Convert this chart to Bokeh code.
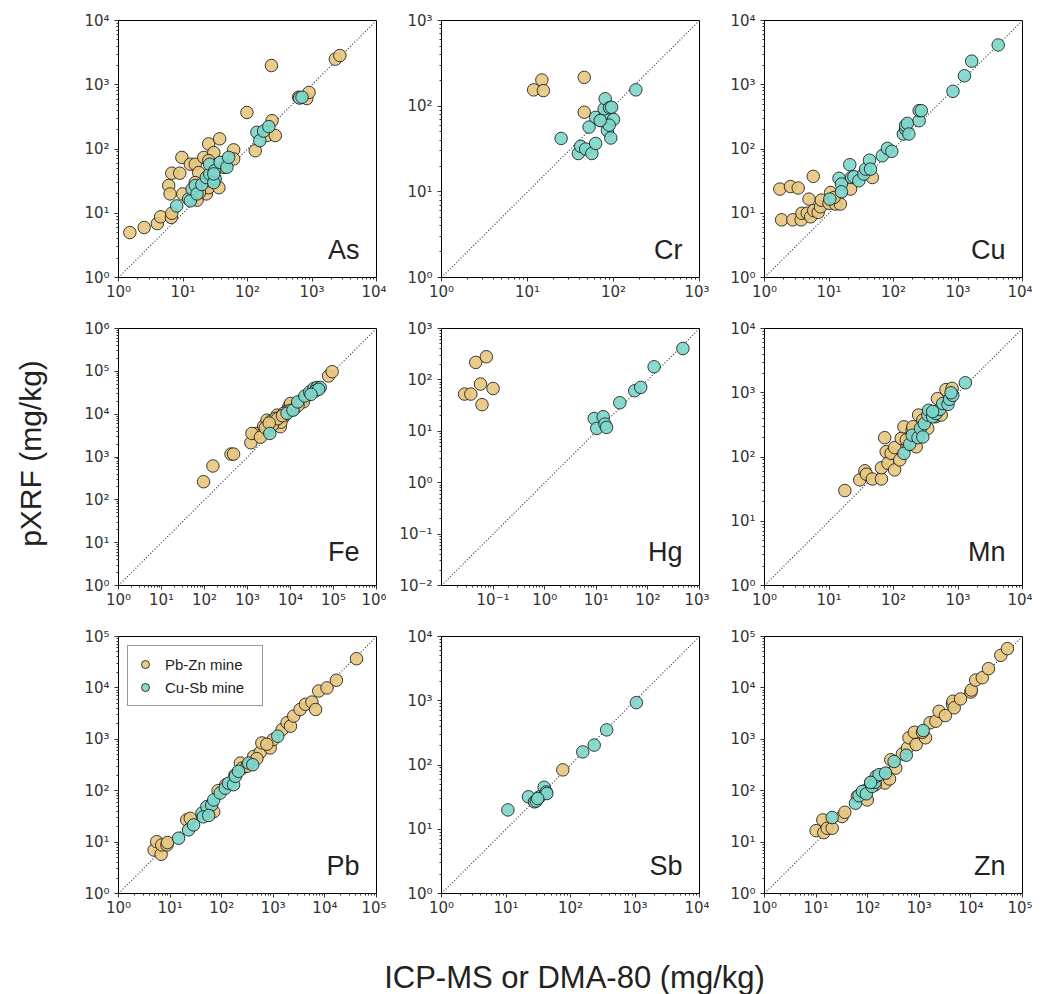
import math
from bokeh.plotting import figure
from bokeh.layouts import row, column
from bokeh.models import (Range1d, FixedTicker, CustomJSTickFormatter, Label,
                          Legend, LegendItem)
from bokeh.embed import file_html
from bokeh.resources import INLINE

# ---------------- data ----------------
elements = ["As", "Cr", "Cu", "Fe", "Hg", "Mn", "Pb", "Sb", "Zn"]
axis_lo_exp = [0, 0, 0, 0, -2, 0, 0, 0, 0]
axis_hi_exp = [4, 3, 4, 6, 3, 4, 5, 4, 5]
legend_labels = ["Pb-Zn mine", "Cu-Sb mine"]
x_title = "ICP-MS or DMA-80 (mg/kg)"
y_title = "pXRF (mg/kg)"

as_pbzn_x = [1.5, 2.5, 4.0, 4.5, 6.6, 6.7, 6.0, 6.3, 6.7, 8.9, 9.6, 9.9, 13, 15.5, 17.5, 21, 25, 30, 37, 25,
             23, 25, 36, 61, 61, 98, 132, 200, 240, 270, 235, 620, 830, 900, 2300, 2700, 15.5, 14, 16.5, 18, 43, 26]
as_pbzn_y = [5.0, 6.0, 6.9, 8.8, 8.6, 10, 27, 20, 42, 42, 74, 20, 58, 58, 43, 74, 120, 88, 144, 66,
             20, 25, 25, 97, 70, 370, 94, 162, 276, 162, 1990, 640, 610, 760, 2500, 2850, 30, 17, 16, 21, 52, 32]
as_cusb_x = [8.0, 12.2, 13, 13.8, 15.5, 16.5, 19.6, 23, 26, 31.6, 30, 25.8, 31, 37.6, 48, 51, 30,
             140, 155, 178, 214, 640, 700]
as_cusb_y = [13, 16.6, 15.6, 23.8, 27, 20, 28, 36, 41, 34, 30, 58, 46, 62, 52, 74, 41,
             182, 135, 190, 223, 620, 640]

cr_pbzn_x = [11.8, 14.7, 15.3, 45.7, 45.7]
cr_pbzn_y = [155, 202, 152, 217, 85]
cr_cusb_x = [24.6, 39, 41.5, 47.5, 56, 52, 62, 62, 72, 78, 78, 80, 85, 90, 95, 100, 89, 93, 182, 70]
cr_cusb_y = [42, 28, 34, 31.6, 28, 57, 36.7, 74, 68, 74, 93, 122, 52, 96, 97, 70, 60, 42.5, 155, 68]

cu_pbzn_x = [1.73, 2.53, 3.33, 1.84, 2.75, 3.7, 3.8, 4.6, 4.9, 5.2, 5.7, 5.8, 6.8, 7.4, 7.6, 10, 10.6,
             12.6, 15, 21.6, 47, 12]
cu_pbzn_y = [23.8, 26, 24.7, 7.9, 7.9, 7.9, 10, 10, 16.6, 8.8, 37.5, 11, 10.3, 12.6, 16, 14.3, 21,
             13.9, 13.9, 23.8, 36, 17.6]
cu_cusb_x = [10.3, 14.3, 15.6, 15.6, 21, 22.4, 24.3, 29, 34.7, 37, 42.5, 44, 67, 80.5, 94,
             142, 154, 154, 164, 173, 250, 250, 270, 835, 1260, 1630, 4200]
cu_cusb_y = [16.6, 35, 28.5, 21.6, 57, 36, 37, 32, 40.7, 48.6, 67, 48.6, 78.5, 102, 92,
             171, 204, 232, 250, 171, 276, 395, 395, 790, 1380, 2330, 4160]

fe_pbzn_x = [95, 157, 414, 475, 1200, 1660, 1270, 2380, 2840, 4100, 4900, 5800, 6950, 9100, 10000,
             18700, 20000, 77000, 93000, 2000, 3500, 5300, 8000, 3000, 6000, 12000, 15000, 4500,
             2600, 3800, 5000, 7000, 9500, 3200, 6500]
fe_pbzn_y = [265, 617, 1170, 1170, 2150, 3550, 3550, 5270, 7250, 6100, 9500, 5100, 8700, 14800, 17800,
             21300, 19400, 78000, 98000, 2900, 6800, 7500, 11500, 4300, 6500, 13000, 16000, 8000,
             4800, 5600, 7800, 10500, 12000, 6200, 9200]
fe_cusb_x = [3300, 8300, 11400, 14700, 21500, 28000, 35000, 41500, 49000, 38000, 45000, 30000]
fe_cusb_y = [3550, 10500, 12400, 19300, 26500, 33000, 40000, 42000, 42000, 35000, 38000, 29000]

hg_pbzn_x = [0.028, 0.037, 0.046, 0.057, 0.061, 0.074, 0.1]
hg_pbzn_y = [53, 53, 219, 83, 33, 282, 68]
hg_cusb_x = [9.1, 10.2, 13.6, 14.7, 15.8, 28.5, 55.6, 72.6, 132, 476]
hg_cusb_y = [17.8, 11.4, 19.2, 13.8, 11.9, 36, 61.5, 71.5, 180, 408]

mn_pbzn_x = [17.6, 30, 36, 38, 47, 65, 65, 73, 77, 82, 92, 104, 104, 125, 132, 145, 168, 195, 200, 225,
             245, 285, 340, 450, 480, 550, 650, 810, 158]
mn_pbzn_y = [30, 44, 61, 54, 45.5, 45.5, 68, 200, 121, 80, 114, 63, 140, 90, 195, 295, 153, 263, 295, 144,
             450, 376, 279, 423, 810, 450, 1120, 1170, 185]
mn_cusb_x = [145, 178, 195, 240, 262, 285, 300, 340, 350, 405, 455, 520, 580, 700, 740, 830, 405, 1300, 780]
mn_cusb_y = [114, 158, 218, 200, 279, 205, 330, 450, 535, 423, 475, 550, 680, 660, 790, 910, 510, 1430, 1000]

pb_pbzn_x = [4.9, 5.5, 6.7, 6.9, 8.7, 8.9, 21, 24.6, 56, 70, 230, 250, 310, 417, 560, 600, 870, 1000,
             1480, 1850, 2150, 2490, 3300, 4200, 5600, 6600, 7600, 11000, 16700, 41000, 180, 480, 750, 120, 85]
pb_pbzn_y = [7.0, 10.2, 5.8, 8.8, 8.8, 9.8, 27, 29, 42, 39, 345, 275, 298, 465, 560, 850, 680, 990,
             1540, 2100, 1800, 2830, 3800, 4800, 5300, 3800, 8700, 10000, 14100, 37000, 200, 420, 800, 130, 100]
pb_cusb_x = [14.6, 22.8, 28.5, 41.5, 51.6, 64, 70, 93.5, 117, 136, 170, 184, 212, 333, 400, 1220, 44, 56]
pb_cusb_y = [11.9, 17.3, 21.6, 36.6, 49, 53, 66, 90, 112, 140, 131, 190, 238, 345, 320, 1150, 31, 33]

sb_pbzn_x = [76]
sb_pbzn_y = [84]
sb_cusb_x = [10.7, 22.3, 27.6, 29.4, 33, 39, 42, 43, 31, 155, 233, 364, 1050]
sb_cusb_y = [20, 32, 26.7, 27.5, 32, 45, 38, 36, 30, 160, 204, 352, 935]

zn_pbzn_x = [10, 13.5, 14.1, 16.4, 20.5, 32, 36, 63, 98, 114, 166, 185, 216, 233, 265, 280, 350, 470, 590,
             630, 800, 870, 1320, 1620, 2100, 2420, 3200, 4400, 4500, 4750, 6300, 10000, 10200, 12400,
             16600, 21900, 38000, 51000, 1150, 90, 140]
zn_pbzn_y = [16.7, 27, 15.3, 18.6, 18.6, 31.4, 38, 77, 66, 141, 190, 177, 141, 214, 169, 400, 275, 520, 680,
             1070, 1370, 790, 1070, 2100, 2250, 3500, 2900, 4800, 5500, 4100, 6100, 8300, 9100, 14200,
             15800, 23700, 43000, 58000, 1370, 100, 130]
zn_cusb_x = [20.5, 58, 68, 79, 94, 122, 138, 146, 166, 222, 325, 560, 1190, 114]
zn_cusb_y = [30, 57, 80, 97, 87, 121, 145, 190, 205, 220, 370, 490, 1480, 145]

pbzn_x = [as_pbzn_x, cr_pbzn_x, cu_pbzn_x, fe_pbzn_x, hg_pbzn_x, mn_pbzn_x, pb_pbzn_x, sb_pbzn_x, zn_pbzn_x]
pbzn_y = [as_pbzn_y, cr_pbzn_y, cu_pbzn_y, fe_pbzn_y, hg_pbzn_y, mn_pbzn_y, pb_pbzn_y, sb_pbzn_y, zn_pbzn_y]
cusb_x = [as_cusb_x, cr_cusb_x, cu_cusb_x, fe_cusb_x, hg_cusb_x, mn_cusb_x, pb_cusb_x, sb_cusb_x, zn_cusb_x]
cusb_y = [as_cusb_y, cr_cusb_y, cu_cusb_y, fe_cusb_y, hg_cusb_y, mn_cusb_y, pb_cusb_y, sb_cusb_y, zn_cusb_y]

# ---------------- style ----------------
TAN = "#E8C77F"
TEAL = "#7DD6CB"
EDGE = "#1a1a1a"
FIG_W, FIG_H = 323, 308
B_LEFT, B_RIGHT, B_TOP, B_BOTTOM = 55, 10, 12, 39
TOP_EXTRA = 8
FRAME_W = FIG_W - B_LEFT - B_RIGHT
FRAME_H = FIG_H - B_TOP - B_BOTTOM

fmt_code = """
const s = {"0":"\u2070","1":"\u00b9","2":"\u00b2","3":"\u00b3","4":"\u2074","5":"\u2075",
           "6":"\u2076","7":"\u2077","8":"\u2078","9":"\u2079","-":"\u207b"};
const e = Math.round(Math.log10(tick));
return "10" + String(e).split("").map(c => s[c]).join("");
"""


def style_axis(ax, standoff):
    ax.formatter = CustomJSTickFormatter(code=fmt_code)
    ax.major_tick_out = 4
    ax.major_tick_in = 0
    ax.minor_tick_out = 2
    ax.minor_tick_in = 0
    ax.major_tick_line_color = "#333333"
    ax.minor_tick_line_color = "#333333"
    ax.axis_line_color = "black"
    ax.major_label_text_font = "DejaVu Sans"
    ax.major_label_text_font_size = "15px"
    ax.major_label_text_color = "#333333"
    ax.major_label_standoff = standoff


def make_panel(i):
    lo, hi = axis_lo_exp[i], axis_hi_exp[i]
    extra = TOP_EXTRA if i < 3 else 0
    p = figure(width=FIG_W, height=FIG_H + extra, x_axis_type="log", y_axis_type="log",
               x_range=Range1d(10.0 ** lo, 10.0 ** hi), y_range=Range1d(10.0 ** lo, 10.0 ** hi),
               output_backend="svg", toolbar_location=None, title=None,
               min_border_left=B_LEFT, min_border_right=B_RIGHT,
               min_border_top=B_TOP + extra, min_border_bottom=B_BOTTOM)
    p.grid.visible = False
    p.outline_line_color = "black"
    p.outline_line_alpha = 1.0
    p.outline_line_width = 1
    p.background_fill_color = "white"
    p.border_fill_color = "white"

    major = [10.0 ** k for k in range(lo, hi + 1)]
    minor = [m * 10.0 ** k for k in range(lo, hi) for m in range(2, 10)]
    x_major = major[1:] if lo < 0 else major
    p.xaxis[0].ticker = FixedTicker(ticks=x_major, minor_ticks=minor)
    p.yaxis[0].ticker = FixedTicker(ticks=major, minor_ticks=minor)
    style_axis(p.xaxis[0], 1)
    style_axis(p.yaxis[0], 5)

    p.line([10.0 ** lo, 10.0 ** hi], [10.0 ** lo, 10.0 ** hi],
           line_color="#3a3a3a", line_width=1.2, line_dash="1 2")

    r1 = p.scatter(pbzn_x[i], pbzn_y[i], size=12.5, fill_color=TAN, fill_alpha=0.9,
                   line_color=EDGE, line_width=1, line_alpha=0.85)
    r2 = p.scatter(cusb_x[i], cusb_y[i], size=12.5, fill_color=TEAL, fill_alpha=0.9,
                   line_color=EDGE, line_width=1, line_alpha=0.85)

    span = hi - lo
    row_idx = i // 3
    off_y_px = 34 if row_idx == 1 else 28
    lab = Label(x=10.0 ** (hi - span * 17.0 / FRAME_W),
                y=10.0 ** (lo + span * off_y_px / FRAME_H),
                text=elements[i], text_align="right", text_baseline="alphabetic",
                text_font="Liberation Sans", text_font_size="27px", text_color="#222222")
    p.add_layout(lab)

    if elements[i] == "Pb":
        legend = Legend(items=[LegendItem(label=legend_labels[0], renderers=[r1]),
                               LegendItem(label=legend_labels[1], renderers=[r2])],
                        location="top_left", margin=9, padding=7, spacing=1,
                        glyph_width=20, glyph_height=22, label_height=22, label_width=90,
                        label_standoff=10,
                        label_text_font="Liberation Sans", label_text_font_size="15px",
                        label_text_color="#222222",
                        border_line_color="#333333", border_line_width=1.5,
                        background_fill_color="white", background_fill_alpha=0.9)
        p.add_layout(legend)
    return p


panels = [make_panel(i) for i in range(9)]
grid = column(row(panels[0], panels[1], panels[2]),
              row(panels[3], panels[4], panels[5]),
              row(panels[6], panels[7], panels[8]))

GRID_H = 3 * FIG_H + TOP_EXTRA
YL_W = 63
ylab = figure(width=YL_W, height=GRID_H, x_range=Range1d(0, YL_W), y_range=Range1d(0, GRID_H),
              output_backend="svg", toolbar_location=None, min_border=0, title=None,
              x_axis_location=None, y_axis_location=None)
ylab.grid.visible = False
ylab.outline_line_color = None
ylab.add_layout(Label(x=30, y=GRID_H - 453, text=y_title, angle=math.pi / 2,
                      text_align="center", text_baseline="middle",
                      text_font="Liberation Sans", text_font_size="30px", text_color="#222222"))

XL_W = YL_W + 3 * FIG_W
XL_H = 62
xlab = figure(width=XL_W, height=XL_H, x_range=Range1d(0, XL_W), y_range=Range1d(0, XL_H),
              output_backend="svg", toolbar_location=None, min_border=0, title=None,
              x_axis_location=None, y_axis_location=None)
xlab.grid.visible = False
xlab.outline_line_color = None
xlab.add_layout(Label(x=574, y=17, text=x_title, text_align="center", text_baseline="alphabetic",
                      text_font="Liberation Sans", text_font_size="31px", text_color="#222222"))

layout = column(row(ylab, grid), xlab)

open("out.html", "w", encoding="utf-8").write(file_html(layout, INLINE))
